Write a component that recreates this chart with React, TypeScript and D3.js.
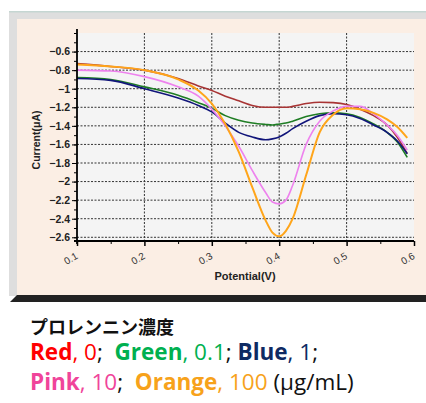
import {useEffect, useRef} from "react";
import * as d3 from "d3";

// Potential (V) sample points shared by every curve
const potential = [0.1, 0.15, 0.2, 0.25, 0.28, 0.3, 0.32, 0.34, 0.36, 0.38, 0.39, 0.4, 0.41, 0.42, 0.44, 0.46, 0.48, 0.5, 0.52, 0.54, 0.56, 0.575, 0.59];

// Current (µA) per prorenin concentration
const red0 = [-0.73, -0.76, -0.8, -0.89, -0.97, -1.02, -1.08, -1.13, -1.18, -1.2, -1.2, -1.2, -1.2, -1.19, -1.16, -1.145, -1.15, -1.17, -1.22, -1.29, -1.39, -1.52, -1.7];
const green01 = [-0.88, -0.9, -0.98, -1.07, -1.15, -1.21, -1.29, -1.34, -1.37, -1.385, -1.39, -1.38, -1.37, -1.35, -1.3, -1.27, -1.26, -1.27, -1.31, -1.38, -1.47, -1.57, -1.74];
const blue1 = [-0.89, -0.91, -1.0, -1.1, -1.18, -1.25, -1.37, -1.47, -1.52, -1.55, -1.54, -1.52, -1.48, -1.43, -1.35, -1.29, -1.27, -1.28, -1.32, -1.39, -1.47, -1.56, -1.7];
const pink10 = [-0.8, -0.81, -0.87, -0.98, -1.08, -1.22, -1.4, -1.62, -1.88, -2.12, -2.22, -2.24, -2.2, -2.04, -1.6, -1.35, -1.24, -1.19, -1.19, -1.27, -1.39, -1.5, -1.66];
const orange100 = [-0.74, -0.76, -0.8, -0.9, -1.02, -1.16, -1.38, -1.68, -2.06, -2.42, -2.55, -2.59, -2.53, -2.4, -1.93, -1.47, -1.28, -1.21, -1.22, -1.26, -1.33, -1.41, -1.53];

const seriesNames = ["Red", "Green", "Blue", "Pink", "Orange"];
const seriesValues = [red0, green01, blue1, pink10, orange100];
const lineColors = ["#a83434", "#1f7d24", "#11157a", "#ee82ee", "#ffa51a"];

const xTicks = [0.1, 0.2, 0.3, 0.4, 0.5, 0.6];
const yTicks = [-0.6, -0.8, -1, -1.2, -1.4, -1.6, -1.8, -2, -2.2, -2.4, -2.6];

const legendTitle = "プロレンニン濃度";
const legendLine1 = [
    {name: "Red", value: ", 0", color: "#ff0000", sep: ";  "},
    {name: "Green", value: ", 0.1", color: "#00b050", sep: "; "},
    {name: "Blue", value: ", 1", color: "#0e2a63", sep: ";"},
];
const legendLine2 = [
    {name: "Pink", value: ", 10", color: "#f0449a", sep: ";  "},
    {name: "Orange", value: ", 100", color: "#f7a21b", sep: " (μg/mL)"},
];

export default function App() {
    const ref = useRef<SVGSVGElement>(null);

    useEffect(() => {
        const el = ref.current;
        if(!el) return;
        const svg = d3.select(el);
        svg.selectAll("*").remove();

        const width = 426;
        const plot = {left: 77, right: 414, top: 33, bottom: 241};

        // frame of the pasted screenshot
        svg.append("rect").attr("x", 9).attr("y", 11).attr("width", width - 9).attr("height", 285).attr("fill", "#dedede");
        svg.append("rect").attr("x", 9).attr("y", 11).attr("width", width - 9).attr("height", 1.5).attr("fill", "#c5d6d2");
        svg.append("rect").attr("x", 17).attr("y", 19).attr("width", width - 17).attr("height", 276).attr("fill", "#fbeee4");
        svg.append("path").attr("d", `M10,302 L17,295 L${width},295 L${width},302 Z`).attr("fill", "#222");

        svg.append("rect")
            .attr("x", plot.left).attr("y", plot.top)
            .attr("width", plot.right - plot.left).attr("height", plot.bottom - plot.top)
            .attr("fill", "#f4f4f4");

        const x = d3.scaleLinear().domain([0.1, 0.6]).range([plot.left, plot.right]);
        const y = d3.scaleLinear().domain([-2.64, -0.4]).range([plot.bottom, plot.top]);

        // gridlines
        svg.append("g")
            .selectAll("line")
            .data(yTicks)
            .join("line")
            .attr("x1", plot.left).attr("x2", plot.right)
            .attr("y1", (d) => y(d)).attr("y2", (d) => y(d))
            .attr("stroke", "#333").attr("stroke-dasharray", "2,1.5");
        svg.append("g")
            .selectAll("line")
            .data(xTicks.slice(1, -1))
            .join("line")
            .attr("x1", (d) => x(d)).attr("x2", (d) => x(d))
            .attr("y1", plot.top).attr("y2", plot.bottom)
            .attr("stroke", "#333").attr("stroke-dasharray", "2,1.5");

        // curves
        const line = d3.line<number>()
            .x((_, i) => x(potential[i]))
            .y((d) => y(d))
            .curve(d3.curveMonotoneX);

        svg.append("g")
            .selectAll("path")
            .data(seriesValues)
            .join("path")
            .attr("d", (d) => line(d))
            .attr("fill", "none")
            .attr("stroke", (_, i) => lineColors[i])
            .attr("stroke-width", (_, i) => (seriesNames[i] === "Orange" ? 2 : 1.6));

        // y axis
        const yAxis = svg.append("g").attr("transform", `translate(${plot.left},0)`);
        yAxis.call(d3.axisLeft(y).tickValues(d3.range(-2.6, -0.35, 0.1)).tickSize(3).tickFormat(() => ""))
            .call((g) => g.select(".domain").remove());
        yAxis.call((g) => g.selectAll("line").attr("stroke", "#000"));
        yAxis.append("g")
            .call(d3.axisLeft(y).tickValues(yTicks).tickSize(5).tickPadding(2).tickFormat((v) => d3.format("")(v as number)))
            .call((g) => g.select(".domain").remove())
            .call((g) => g.selectAll("line").attr("stroke", "#000"))
            .call((g) => g.selectAll("text")
                .attr("fill", "#222")
                .attr("font-size", 10.5)
                .attr("font-weight", "bold")
                .attr("font-family", "Liberation Sans, Arial, sans-serif"));
        svg.append("line")
            .attr("x1", plot.left).attr("x2", plot.left)
            .attr("y1", plot.top - 4).attr("y2", plot.bottom + 3)
            .attr("stroke", "#000").attr("stroke-width", 1.8);

        // x axis
        const xAxis = svg.append("g").attr("transform", `translate(0,${plot.bottom})`);
        xAxis.call(d3.axisBottom(x).tickValues(d3.range(0.15, 0.6, 0.1)).tickSize(3).tickFormat(() => ""))
            .call((g) => g.select(".domain").remove())
            .call((g) => g.selectAll("line").attr("stroke", "#000"));
        xAxis.append("g")
            .call(d3.axisBottom(x).tickValues(xTicks).tickSize(5).tickFormat(() => ""))
            .call((g) => g.select(".domain").remove())
            .call((g) => g.selectAll("line").attr("stroke", "#000").attr("stroke-width", 1.5));
        svg.append("line")
            .attr("x1", plot.left - 3).attr("x2", plot.right)
            .attr("y1", plot.bottom).attr("y2", plot.bottom)
            .attr("stroke", "#000").attr("stroke-width", 1.8);

        svg.append("g")
            .selectAll("text")
            .data(xTicks)
            .join("text")
            .attr("transform", (d) => `translate(${x(d) - 2},${plot.bottom + 11}) rotate(-30)`)
            .attr("text-anchor", "end")
            .attr("dy", "0.7em")
            .attr("fill", "#333")
            .attr("font-size", 10)
            .attr("font-family", "Liberation Sans, Arial, sans-serif")
            .text((d) => d3.format(".1f")(d));

        svg.append("text")
            .attr("x", 245).attr("y", 280)
            .attr("text-anchor", "middle")
            .attr("font-size", 11)
            .attr("font-weight", "bold")
            .attr("font-family", "Liberation Sans, Arial, sans-serif")
            .attr("fill", "#222")
            .text("Potential(V)");

        svg.append("text")
            .attr("transform", `translate(40,140) rotate(-90)`)
            .attr("text-anchor", "middle")
            .attr("font-size", 10.5)
            .attr("font-weight", "bold")
            .attr("font-family", "Liberation Sans, Arial, sans-serif")
            .attr("fill", "#222")
            .text("Current(μA)");

        // legend caption
        svg.append("text")
            .attr("x", 30).attr("y", 334)
            .attr("font-size", 18)
            .attr("font-weight", "bold")
            .attr("font-family", "Noto Sans CJK JP, sans-serif")
            .attr("fill", "#111")
            .text(legendTitle);

        const legendRow = (items: typeof legendLine1, baseline: number) => {
            const t = svg.append("text")
                .attr("x", 30).attr("y", baseline)
                .attr("font-size", 22.5)
                .attr("font-family", "Open Sans, sans-serif")
                .attr("xml:space", "preserve");
            items.forEach((it) => {
                t.append("tspan").attr("fill", it.color).attr("font-weight", "bold").text(it.name);
                t.append("tspan").attr("fill", it.color).text(it.value);
                t.append("tspan").attr("fill", "#111").text(it.sep);
            });
        };
        legendRow(legendLine1, 360);
        legendRow(legendLine2, 390);
    }, []);

    return (
        <svg
            ref={ref}
            width={426}
            height={403}
            style={{position: "absolute", left: 0, top: 0, background: "#fff"}}
        />
    );
}
